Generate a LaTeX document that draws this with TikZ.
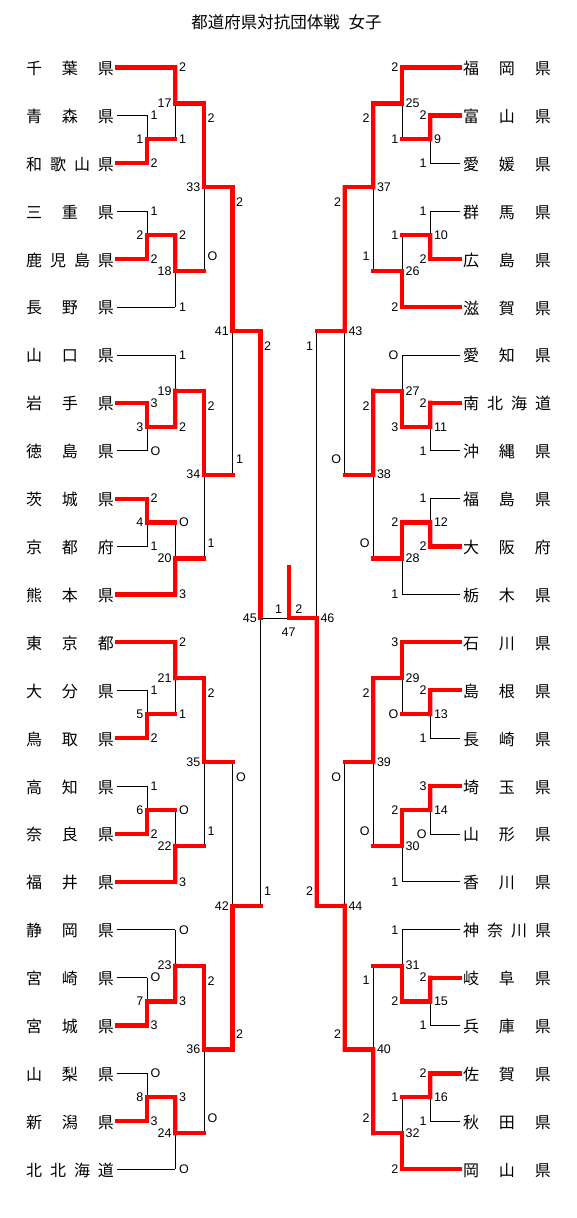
\documentclass[tikz,border=0pt]{standalone}
\usepackage{fontspec}
\setmainfont{Liberation Sans}
\newfontfamily\jp{Noto Sans CJK JP}
\usetikzlibrary{calc}
\newcommand\jthree[3]{\makebox[36pt]{#1}\makebox[36pt]{#2}\makebox[36pt]{#3}}
\newcommand\jfour[4]{\makebox[24pt]{#1}\makebox[24pt]{#2}\makebox[24pt]{#3}\makebox[24pt]{#4}}
% match: #1 junction, #2 column, #3 top entry, #4 bottom entry, #5/#6 entry styles, #7 winner t/b
\newcommand\bout[7]{%
  \coordinate (#1) at ($(#3 -| #2)!0.5!(#4 -| #2)$);
  \draw[lose] (#3 -| #2) -- (#4 -| #2);
  \draw[#5] (#3) -- (#3 -| #2);
  \draw[#6] (#4) -- (#4 -| #2);
  \if#7t\draw[win] (#3 -| #2) -- (#1);\else\draw[win] (#4 -| #2) -- (#1);\fi
}
% labels: #1 side L/R, #2 mode l/h, #3 column, #4 top, #5 bottom, #6 #7 scores, #8 junction, #9 number
\newcommand\blab[9]{%
  \if#1L
    \if#2l
      \node[sc,anchor=west] (#8t) at ($(#4 -| #3)+(3.5,0)$) {#6};
      \node[sc,anchor=west] (#8b) at ($(#5 -| #3)+(3.5,0)$) {#7};
    \else
      \node[sc,anchor=west] (#8t) at ($(#4 -| #3)+(3.5,15)$) {#6};
      \node[sc,anchor=west] (#8b) at ($(#5 -| #3)+(3.5,-15)$) {#7};
    \fi
    \node[sc,anchor=east] (#8n) at ($(#8)+(-3.5,0)$) {#9};
  \else
    \if#2l
      \node[sc,anchor=east] (#8t) at ($(#4 -| #3)+(-3.5,0)$) {#6};
      \node[sc,anchor=east] (#8b) at ($(#5 -| #3)+(-3.5,0)$) {#7};
    \else
      \node[sc,anchor=east] (#8t) at ($(#4 -| #3)+(-3.5,15)$) {#6};
      \node[sc,anchor=east] (#8b) at ($(#5 -| #3)+(-3.5,-15)$) {#7};
    \fi
    \node[sc,anchor=west] (#8n) at ($(#8)+(3.5,0)$) {#9};
  \fi
}
\newcommand\tmL[2]{\node[team] (LN#1) at ($(LT#1)+(-47.3,1)$) {#2};}
\newcommand\tmR[2]{\node[team] (RN#1) at ($(RT#1)+(47,1)$) {#2};}
\begin{document}
\begin{tikzpicture}[x=1pt,y=-1pt,
  win/.style={draw=red,line width=4.2pt,line cap=rect},
  lose/.style={draw=black,line width=0.8pt},
  sc/.style={font=\fontsize{12.5}{13}\selectfont,inner sep=0pt},
  team/.style={font=\jp\fontsize{16}{16}\selectfont,inner sep=0pt},
  title/.style={font=\jp\fontsize{16.5}{17}\selectfont,inner sep=0pt}]
\path[use as bounding box,fill=white] (0,0) rectangle (576,1218);
\node[title] (ttl) at (286.5,22) {都道府県対抗団体戦\hspace{9pt}女子};
% columns
\coordinate (L1) at (147,0);
\coordinate (L2) at (175.3,0);
\coordinate (L3) at (204,0);
\coordinate (L4) at (232.5,0);
\coordinate (L5) at (260.5,0);
\coordinate (C) at (288.65,0);
\coordinate (R1) at (430.3,0);
\coordinate (R2) at (402,0);
\coordinate (R3) at (373.3,0);
\coordinate (R4) at (344.8,0);
\coordinate (R5) at (316.8,0);
\foreach \i in {0,...,23}{
  \coordinate (LT\i) at (117.3,{67.5+47.9*\i});
  \coordinate (RT\i) at (460,{67.5+47.9*\i});
}
% team names left
\tmL{0}{\jthree{千}{葉}{県}}
\tmL{1}{\jthree{青}{森}{県}}
\tmL{2}{\jfour{和}{歌}{山}{県}}
\tmL{3}{\jthree{三}{重}{県}}
\tmL{4}{\jfour{鹿}{児}{島}{県}}
\tmL{5}{\jthree{長}{野}{県}}
\tmL{6}{\jthree{山}{口}{県}}
\tmL{7}{\jthree{岩}{手}{県}}
\tmL{8}{\jthree{徳}{島}{県}}
\tmL{9}{\jthree{茨}{城}{県}}
\tmL{10}{\jthree{京}{都}{府}}
\tmL{11}{\jthree{熊}{本}{県}}
\tmL{12}{\jthree{東}{京}{都}}
\tmL{13}{\jthree{大}{分}{県}}
\tmL{14}{\jthree{鳥}{取}{県}}
\tmL{15}{\jthree{高}{知}{県}}
\tmL{16}{\jthree{奈}{良}{県}}
\tmL{17}{\jthree{福}{井}{県}}
\tmL{18}{\jthree{静}{岡}{県}}
\tmL{19}{\jthree{宮}{崎}{県}}
\tmL{20}{\jthree{宮}{城}{県}}
\tmL{21}{\jthree{山}{梨}{県}}
\tmL{22}{\jthree{新}{潟}{県}}
\tmL{23}{\jfour{北}{北}{海}{道}}
% team names right
\tmR{0}{\jthree{福}{岡}{県}}
\tmR{1}{\jthree{富}{山}{県}}
\tmR{2}{\jthree{愛}{媛}{県}}
\tmR{3}{\jthree{群}{馬}{県}}
\tmR{4}{\jthree{広}{島}{県}}
\tmR{5}{\jthree{滋}{賀}{県}}
\tmR{6}{\jthree{愛}{知}{県}}
\tmR{7}{\jfour{南}{北}{海}{道}}
\tmR{8}{\jthree{沖}{縄}{県}}
\tmR{9}{\jthree{福}{島}{県}}
\tmR{10}{\jthree{大}{阪}{府}}
\tmR{11}{\jthree{栃}{木}{県}}
\tmR{12}{\jthree{石}{川}{県}}
\tmR{13}{\jthree{島}{根}{県}}
\tmR{14}{\jthree{長}{崎}{県}}
\tmR{15}{\jthree{埼}{玉}{県}}
\tmR{16}{\jthree{山}{形}{県}}
\tmR{17}{\jthree{香}{川}{県}}
\tmR{18}{\jfour{神}{奈}{川}{県}}
\tmR{19}{\jthree{岐}{阜}{県}}
\tmR{20}{\jthree{兵}{庫}{県}}
\tmR{21}{\jthree{佐}{賀}{県}}
\tmR{22}{\jthree{秋}{田}{県}}
\tmR{23}{\jthree{岡}{山}{県}}
% ===== LEFT =====
\bout{m1}{L1}{LT1}{LT2}{lose}{win}{b}  \blab{L}{l}{L1}{LT1}{LT2}{1}{2}{m1}{1}
\bout{m17}{L2}{LT0}{m1}{win}{win}{t}   \blab{L}{l}{L2}{LT0}{m1}{2}{1}{m17}{17}
\bout{m2}{L1}{LT3}{LT4}{lose}{win}{b}  \blab{L}{l}{L1}{LT3}{LT4}{1}{2}{m2}{2}
\bout{m18}{L2}{m2}{LT5}{win}{lose}{t}  \blab{L}{l}{L2}{m2}{LT5}{2}{1}{m18}{18}
\bout{m33}{L3}{m17}{m18}{win}{win}{t}  \blab{L}{h}{L3}{m17}{m18}{2}{O}{m33}{33}
\bout{m3}{L1}{LT7}{LT8}{win}{lose}{t}  \blab{L}{l}{L1}{LT7}{LT8}{3}{O}{m3}{3}
\bout{m19}{L2}{LT6}{m3}{lose}{win}{b}  \blab{L}{l}{L2}{LT6}{m3}{1}{2}{m19}{19}
\bout{m4}{L1}{LT9}{LT10}{win}{lose}{t} \blab{L}{l}{L1}{LT9}{LT10}{2}{1}{m4}{4}
\bout{m20}{L2}{m4}{LT11}{win}{win}{b}  \blab{L}{l}{L2}{m4}{LT11}{O}{3}{m20}{20}
\bout{m34}{L3}{m19}{m20}{win}{win}{t}  \blab{L}{h}{L3}{m19}{m20}{2}{1}{m34}{34}
\bout{m5}{L1}{LT13}{LT14}{lose}{win}{b} \blab{L}{l}{L1}{LT13}{LT14}{1}{2}{m5}{5}
\bout{m21}{L2}{LT12}{m5}{win}{win}{t}  \blab{L}{l}{L2}{LT12}{m5}{2}{1}{m21}{21}
\bout{m6}{L1}{LT15}{LT16}{lose}{win}{b} \blab{L}{l}{L1}{LT15}{LT16}{1}{2}{m6}{6}
\bout{m22}{L2}{m6}{LT17}{win}{win}{b}  \blab{L}{l}{L2}{m6}{LT17}{O}{3}{m22}{22}
\bout{m35}{L3}{m21}{m22}{win}{win}{t}  \blab{L}{h}{L3}{m21}{m22}{2}{1}{m35}{35}
\bout{m7}{L1}{LT19}{LT20}{lose}{win}{b} \blab{L}{l}{L1}{LT19}{LT20}{O}{3}{m7}{7}
\bout{m23}{L2}{LT18}{m7}{lose}{win}{b} \blab{L}{l}{L2}{LT18}{m7}{O}{3}{m23}{23}
\bout{m8}{L1}{LT21}{LT22}{lose}{win}{b} \blab{L}{l}{L1}{LT21}{LT22}{O}{3}{m8}{8}
\bout{m24}{L2}{m8}{LT23}{win}{lose}{t} \blab{L}{l}{L2}{m8}{LT23}{3}{O}{m24}{24}
\bout{m36}{L3}{m23}{m24}{win}{win}{t}  \blab{L}{h}{L3}{m23}{m24}{2}{O}{m36}{36}
\bout{m41}{L4}{m33}{m34}{win}{win}{t}  \blab{L}{h}{L4}{m33}{m34}{2}{1}{m41}{41}
\bout{m42}{L4}{m35}{m36}{win}{win}{b}  \blab{L}{h}{L4}{m35}{m36}{O}{2}{m42}{42}
\bout{m45}{L5}{m41}{m42}{win}{win}{t}  \blab{L}{h}{L5}{m41}{m42}{2}{1}{m45}{45}
% ===== RIGHT =====
\bout{m9}{R1}{RT1}{RT2}{win}{lose}{t}  \blab{R}{l}{R1}{RT1}{RT2}{2}{1}{m9}{9}
\bout{m25}{R2}{RT0}{m9}{win}{win}{t}   \blab{R}{l}{R2}{RT0}{m9}{2}{1}{m25}{25}
\bout{m10}{R1}{RT3}{RT4}{lose}{win}{b} \blab{R}{l}{R1}{RT3}{RT4}{1}{2}{m10}{10}
\bout{m26}{R2}{m10}{RT5}{win}{win}{b}  \blab{R}{l}{R2}{m10}{RT5}{1}{2}{m26}{26}
\bout{m37}{R3}{m25}{m26}{win}{win}{t}  \blab{R}{h}{R3}{m25}{m26}{2}{1}{m37}{37}
\bout{m11}{R1}{RT7}{RT8}{win}{lose}{t} \blab{R}{l}{R1}{RT7}{RT8}{2}{1}{m11}{11}
\bout{m27}{R2}{RT6}{m11}{lose}{win}{b} \blab{R}{l}{R2}{RT6}{m11}{O}{3}{m27}{27}
\bout{m12}{R1}{RT9}{RT10}{lose}{win}{b} \blab{R}{l}{R1}{RT9}{RT10}{1}{2}{m12}{12}
\bout{m28}{R2}{m12}{RT11}{win}{lose}{t} \blab{R}{l}{R2}{m12}{RT11}{2}{1}{m28}{28}
\bout{m38}{R3}{m27}{m28}{win}{win}{t}  \blab{R}{h}{R3}{m27}{m28}{2}{O}{m38}{38}
\bout{m13}{R1}{RT13}{RT14}{win}{lose}{t} \blab{R}{l}{R1}{RT13}{RT14}{2}{1}{m13}{13}
\bout{m29}{R2}{RT12}{m13}{win}{win}{t} \blab{R}{l}{R2}{RT12}{m13}{3}{O}{m29}{29}
\bout{m14}{R1}{RT15}{RT16}{win}{lose}{t} \blab{R}{l}{R1}{RT15}{RT16}{3}{O}{m14}{14}
\bout{m30}{R2}{m14}{RT17}{win}{lose}{t} \blab{R}{l}{R2}{m14}{RT17}{2}{1}{m30}{30}
\bout{m39}{R3}{m29}{m30}{win}{win}{t}  \blab{R}{h}{R3}{m29}{m30}{2}{O}{m39}{39}
\bout{m15}{R1}{RT19}{RT20}{win}{lose}{t} \blab{R}{l}{R1}{RT19}{RT20}{2}{1}{m15}{15}
\bout{m31}{R2}{RT18}{m15}{lose}{win}{b} \blab{R}{l}{R2}{RT18}{m15}{1}{2}{m31}{31}
\bout{m16}{R1}{RT21}{RT22}{win}{lose}{t} \blab{R}{l}{R1}{RT21}{RT22}{2}{1}{m16}{16}
\bout{m32}{R2}{m16}{RT23}{win}{win}{b} \blab{R}{l}{R2}{m16}{RT23}{1}{2}{m32}{32}
\bout{m40}{R3}{m31}{m32}{win}{win}{b}  \blab{R}{h}{R3}{m31}{m32}{1}{2}{m40}{40}
\bout{m43}{R4}{m37}{m38}{win}{win}{t}  \blab{R}{h}{R4}{m37}{m38}{2}{O}{m43}{43}
\bout{m44}{R4}{m39}{m40}{win}{win}{b}  \blab{R}{h}{R4}{m39}{m40}{O}{2}{m44}{44}
\bout{m46}{R5}{m43}{m44}{win}{win}{b}  \blab{R}{h}{R5}{m43}{m44}{1}{2}{m46}{46}
% ===== FINAL =====
\coordinate (fin) at (m45 -| C);
\coordinate (champ) at ($(fin)+(0,-51)$);
\draw[lose] (m45) -- (fin);
\draw[win] (m46) -- (fin) -- (champ);
\node[sc,anchor=east] (fl) at ($(fin)+(-6.5,-9)$) {1};
\node[sc,anchor=west] (fr) at ($(fin)+(6.5,-9)$) {2};
\node[sc] (fn) at ($(fin)+(0,13.5)$) {47};
\end{tikzpicture}
\end{document}
